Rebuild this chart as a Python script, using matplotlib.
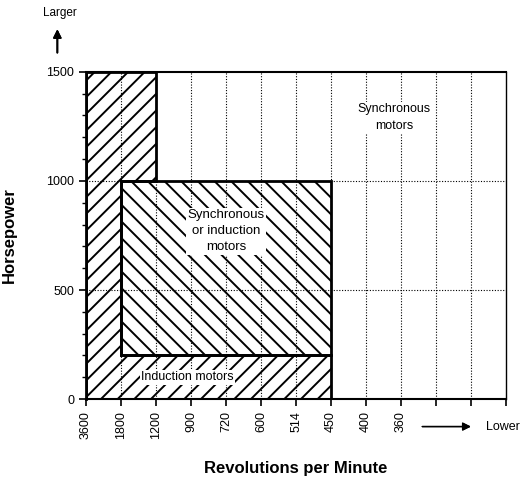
import matplotlib.pyplot as plt
from matplotlib.patches import Polygon
from matplotlib.ticker import MultipleLocator

plt.rcParams['font.family'] = ['Liberation Sans', 'DejaVu Sans']
plt.rcParams['hatch.linewidth'] = 1.4

# rpm categories along x (index positions), higher speed on the left
rpm_labels = ['3600', '1800', '1200', '900', '720', '600', '514', '450', '400', '360']
n_slots = 12
hp_ticks = [0, 500, 1000, 1500]

# region outlines as (rpm index, horsepower)
induction_region = [(0, 0), (0, 1500), (2, 1500), (2, 1000), (1, 1000),
                    (1, 200), (7, 200), (7, 0)]
mixed_region = [(1, 200), (1, 1000), (7, 1000), (7, 200)]

fig = plt.figure(figsize=(5.31, 4.82), dpi=100)
ax = fig.add_axes([0.162, 0.172, 0.791, 0.679])

# dotted grid
for i in range(1, n_slots):
    ax.axvline(i, color='black', ls=(0, (1, 1.5)), lw=0.8, zorder=1)
for h in [500, 1000]:
    ax.axhline(h, color='black', ls=(0, (1, 1.5)), lw=0.8, zorder=1)

ax.add_patch(Polygon(induction_region, closed=True, facecolor='none',
                     edgecolor='black', hatch='//', lw=2, zorder=2))
ax.add_patch(Polygon(mixed_region, closed=True, facecolor='none',
                     edgecolor='black', hatch='\\\\', lw=2, zorder=2))

box = dict(facecolor='white', edgecolor='none', pad=1)
ax.text(8.8, 1290, 'Synchronous\nmotors', ha='center', va='center',
        fontsize=9, linespacing=1.5, zorder=3, bbox=box)
ax.text(4.0, 770, 'Synchronous\nor induction\nmotors', ha='center', va='center',
        fontsize=9.5, linespacing=1.45, zorder=3, bbox=box)
ax.text(2.9, 100, 'Induction motors', ha='center', va='center',
        fontsize=9, zorder=3, bbox=box)

ax.set_xlim(0, n_slots)
ax.set_ylim(0, 1500)
ax.set_xticks(range(n_slots + 1))
ax.set_xticklabels(rpm_labels + [''] * (n_slots + 1 - len(rpm_labels)),
                   rotation=90, fontsize=9)
ax.set_yticks(hp_ticks)
ax.set_yticklabels([str(h) for h in hp_ticks], fontsize=9)
ax.yaxis.set_minor_locator(MultipleLocator(100))
ax.tick_params(direction='out', length=5, width=1.2)
ax.tick_params(which='minor', direction='out', length=3, width=1)

ax.spines['left'].set_linewidth(2)
ax.spines['bottom'].set_linewidth(1.5)
ax.spines['top'].set_linewidth(1.5)
ax.spines['right'].set_linewidth(1)

ax.set_xlabel('Revolutions per Minute', fontsize=12, fontweight='bold', labelpad=16)
ax.set_ylabel('Horsepower', fontsize=12, fontweight='bold', labelpad=21)

# direction arrows
fig.text(0.113, 0.972, 'Larger', ha='center', va='center', fontsize=8.5)
fig.add_artist(plt.annotate('', xy=(0.108, 0.945), xytext=(0.108, 0.885),
                            xycoords='figure fraction',
                            arrowprops=dict(arrowstyle='-|>', color='black',
                                            lw=1.3, mutation_scale=12)))
fig.add_artist(plt.annotate('', xy=(0.892, 0.115), xytext=(0.79, 0.115),
                            xycoords='figure fraction',
                            arrowprops=dict(arrowstyle='-|>', color='black',
                                            lw=1, mutation_scale=12)))
fig.text(0.915, 0.115, 'Lower', ha='left', va='center', fontsize=9)

fig.savefig('out.png', dpi=100)
